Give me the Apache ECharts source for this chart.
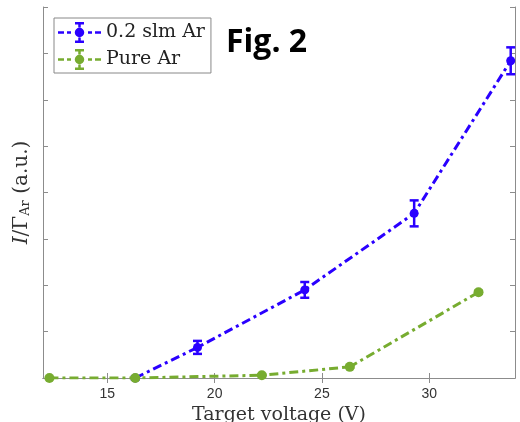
<!DOCTYPE html>
<html>
<head>
<meta charset="utf-8">
<script src="https://cdn.jsdelivr.net/npm/echarts@6/dist/echarts.min.js"></script>
<style>
  html, body { margin: 0; padding: 0; background: #fff; }
  #main { width: 520px; height: 422px; }
</style>
</head>
<body>
<div id="main"></div>
<script>
// data
const xTicks = [15, 20, 25, 30];
const voltageAr02 = [16.3, 19.2, 24.2, 29.3, 33.8];
const signalAr02 = [0.0, 0.66, 1.9, 3.55, 6.84];
const errAr02 = [0.03, 0.14, 0.17, 0.28, 0.29];
const voltagePure = [12.3, 16.3, 22.2, 26.3, 32.3];
const signalPure = [0.0, 0.0, 0.06, 0.24, 1.85];
const errPure = [0.01, 0.01, 0.01, 0.02, 0.03];

const BLUE = '#2a00ff';
const GREEN = '#77ac30';
const AXIS = '#8c8c8c';
const DASHDOT = [9, 4, 3, 4];

// legend icon: dash-dot line, error bar and dot (pieces don't overlap)
const legendIcon = 'path://M0,9.25h6v2.5h-6z M9,9.25h4v2.5h-4z M30,9.25h4v2.5h-4z M37,9.25h6v2.5h-6z' +
  ' M20.25,0h2.5v5.5h-2.5z M20.25,15.5h2.5v5.5h-2.5z M17,0h9v2.5h-9z M17,18.5h9v2.5h-9z' +
  ' M14,10.5h2.5v0z M16.75,10.5a4.75,4.75 0 1,1 9.5,0a4.75,4.75 0 1,1 -9.5,0z';

function pairs(xs, ys) {
  return xs.map((x, i) => [x, ys[i]]);
}
function errData(xs, ys, es) {
  return xs.map((x, i) => [x, ys[i] - es[i], ys[i] + es[i]]);
}

function errRender(color) {
  return function (params, api) {
    const lo = api.coord([api.value(0), api.value(1)]);
    const hi = api.coord([api.value(0), api.value(2)]);
    const w = 4.5;
    const st = { stroke: color, lineWidth: 2.5 };
    return {
      type: 'group',
      children: [
        { type: 'line', shape: { x1: lo[0], y1: lo[1], x2: hi[0], y2: hi[1] }, style: st },
        { type: 'line', shape: { x1: lo[0] - w, y1: lo[1], x2: lo[0] + w, y2: lo[1] }, style: st },
        { type: 'line', shape: { x1: hi[0] - w, y1: hi[1], x2: hi[0] + w, y2: hi[1] }, style: st }
      ]
    };
  };
}

const chart = echarts.init(document.getElementById('main'), null, { renderer: 'canvas' });

const option = {
  backgroundColor: '#fff',
  animation: false,
  grid: { left: 43, right: 5, top: 7, bottom: 44, outerBoundsMode: 'none' },
  legend: {
    left: 54,
    top: 18,
    orient: 'vertical',
    itemWidth: 43,
    itemHeight: 21,
    itemGap: 6,
    padding: [4, 6, 3, 4],
    borderColor: '#888',
    borderWidth: 1,
    backgroundColor: '#fff',
    textStyle: { fontFamily: 'DejaVu Serif', fontSize: 19, color: '#222' },
    data: [
      { name: '0.2 slm Ar', icon: legendIcon, itemStyle: { color: BLUE } },
      { name: 'Pure Ar', icon: legendIcon, itemStyle: { color: GREEN } }
    ]
  },
  graphic: [
    {
      type: 'text',
      left: 226,
      top: 27,
      style: { text: 'Fig. 2', fontFamily: 'Open Sans', fontWeight: 'bold', fontSize: 32, fill: '#000' }
    }
  ],
  xAxis: [
    {
      type: 'value',
      min: 12,
      max: 34,
      name: 'Target voltage (V)',
      nameLocation: 'middle',
      nameGap: 25,
      nameTextStyle: { fontFamily: 'DejaVu Serif', fontSize: 19, color: '#333' },
      axisLine: { lineStyle: { color: AXIS, width: 1 } },
      axisTick: { inside: true, length: 5, customValues: xTicks, lineStyle: { color: AXIS } },
      axisLabel: { customValues: xTicks, fontFamily: 'Liberation Sans', fontSize: 14, color: '#333', margin: 9 },
      splitLine: { show: false }
    },
    {
      type: 'value',
      position: 'top',
      min: 12,
      max: 34,
      axisLine: { lineStyle: { color: AXIS, width: 1 } },
      axisTick: { inside: true, length: 5, customValues: xTicks, lineStyle: { color: AXIS } },
      axisLabel: { show: false },
      splitLine: { show: false }
    }
  ],
  yAxis: [
    {
      type: 'value',
      min: 0,
      max: 8,
      interval: 1,
      name: '{i|I}/Γ{sub|Ar} (a.u.)',
      nameLocation: 'middle',
      nameGap: 11,
      nameTextStyle: {
        fontFamily: 'DejaVu Serif',
        fontSize: 20,
        color: '#333',
        rich: {
          i: { fontFamily: 'DejaVu Serif', fontStyle: 'italic', fontSize: 20, color: '#333' },
          sub: { fontFamily: 'DejaVu Serif', fontSize: 13, color: '#333', verticalAlign: 'bottom', padding: [8, 0, 0, 0] }
        }
      },
      axisLine: { show: true, lineStyle: { color: AXIS, width: 1 } },
      axisTick: { show: true, inside: true, length: 5, lineStyle: { color: AXIS } },
      axisLabel: { show: false },
      splitLine: { show: false }
    },
    {
      type: 'value',
      position: 'right',
      min: 0,
      max: 8,
      interval: 1,
      axisLine: { show: true, lineStyle: { color: AXIS, width: 1 } },
      axisTick: { show: true, inside: true, length: 5, lineStyle: { color: AXIS } },
      axisLabel: { show: false },
      splitLine: { show: false }
    }
  ],
  series: [
    {
      name: '0.2 slm Ar',
      type: 'line',
      data: pairs(voltageAr02, signalAr02),
      symbol: 'circle',
      symbolSize: 9,
      itemStyle: { color: BLUE },
      lineStyle: { color: BLUE, width: 3, type: DASHDOT },
      z: 3
    },
    {
      name: '0.2 slm Ar',
      type: 'custom',
      data: errData(voltageAr02, signalAr02, errAr02),
      renderItem: errRender(BLUE),
      encode: { x: 0, y: [1, 2] },
      z: 3
    },
    {
      name: 'Pure Ar',
      type: 'line',
      data: pairs(voltagePure, signalPure),
      symbol: 'circle',
      symbolSize: 10,
      itemStyle: { color: GREEN },
      lineStyle: { color: GREEN, width: 3, type: DASHDOT },
      z: 4
    },
    {
      name: 'Pure Ar',
      type: 'custom',
      data: errData(voltagePure, signalPure, errPure),
      renderItem: errRender(GREEN),
      encode: { x: 0, y: [1, 2] },
      z: 4
    }
  ]
};

chart.setOption(option);
</script>
</body>
</html>
